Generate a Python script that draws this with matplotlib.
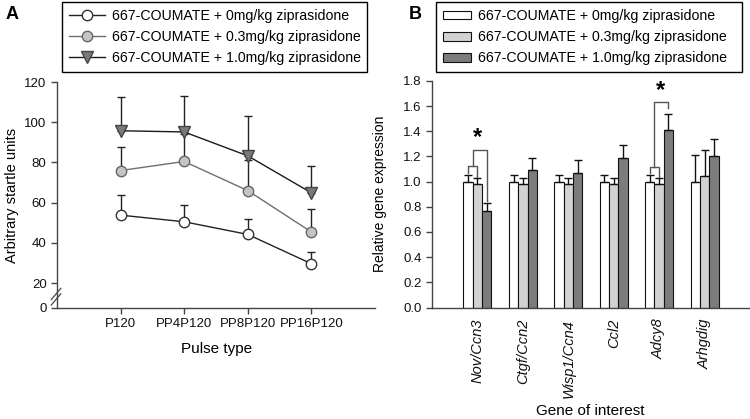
import matplotlib
matplotlib.use('Agg')
import matplotlib.pyplot as plt
import numpy as np

plt.rcParams['font.family'] = ['Liberation Sans', 'DejaVu Sans']

# Panel A: startle data
pulse_types = ['P120', 'PP4P120', 'PP8P120', 'PP16P120']
startle_0 = [53.8, 50.5, 44.2, 29.6]
startle_0_err = [10.2, 8.3, 7.6, 5.8]
startle_03 = [76.0, 80.5, 66.0, 45.4]
startle_03_err = [11.5, 13.5, 15.0, 11.5]
startle_10 = [95.8, 95.2, 83.3, 64.9]
startle_10_err = [16.8, 18.0, 19.8, 13.6]

# Panel B: gene expression
genes = ['Nov/Ccn3', 'Ctgf/Ccn2', 'Wisp1/Ccn4', 'Ccl2', 'Adcy8', 'Arhgdig']
expr_0 = [1.00, 1.00, 1.00, 1.00, 1.00, 1.00]
expr_0_err = [0.055, 0.055, 0.055, 0.055, 0.055, 0.21]
expr_03 = [0.98, 0.98, 0.98, 0.98, 0.98, 1.045]
expr_03_err = [0.048, 0.048, 0.048, 0.05, 0.05, 0.21]
expr_10 = [0.77, 1.09, 1.065, 1.19, 1.41, 1.20]
expr_10_err = [0.06, 0.095, 0.105, 0.10, 0.125, 0.14]

labels = ['667-COUMATE + 0mg/kg ziprasidone',
          '667-COUMATE + 0.3mg/kg ziprasidone',
          '667-COUMATE + 1.0mg/kg ziprasidone']

spine_col = '#444444'

fig = plt.figure(figsize=(7.5, 4.19), dpi=100)
axA = fig.add_axes([0.076, 0.265, 0.424, 0.539])
axB = fig.add_axes([0.576, 0.266, 0.424, 0.541])


# broken axis: 0-20 compressed
def fwd(v):
    v = np.asarray(v, dtype=float)
    return np.where(v >= 20, v, 20 - (20 - v) * 0.62)


def inv(v):
    v = np.asarray(v, dtype=float)
    return np.where(v >= 20, v, 20 - (20 - v) / 0.62)


axA.set_yscale('function', functions=(fwd, inv))

xA = np.arange(1, len(pulse_types) + 1)
series = [
    (startle_0, startle_0_err, 'o', 'white', '#333333', '#222222', 7.5),
    (startle_03, startle_03_err, 'o', '#c4c4c4', '#666666', '#6e6e6e', 7.5),
    (startle_10, startle_10_err, 'v', '#7a7a7a', '#444444', '#1a1a1a', 8.5),
]
handles = []
for vals, err, mk, fc, ec, lc, ms in series:
    axA.errorbar(xA, vals, yerr=[np.zeros(len(err)), err], fmt='none',
                 ecolor='#222222', elinewidth=1.0, capsize=3, capthick=1.0, zorder=2)
    h, = axA.plot(xA, vals, '-', color=lc, lw=1.0, marker=mk, markersize=ms,
                  markerfacecolor=fc, markeredgecolor=ec, markeredgewidth=1.0, zorder=3)
    handles.append(h)

axA.set_xlim(0, 5)
axA.set_ylim(0, 120)
axA.set_yticks([0, 20, 40, 60, 80, 100, 120])
axA.set_xticks(xA)
axA.set_xticklabels(pulse_types)
axA.set_xlabel('Pulse type', fontsize=11)
axA.xaxis.set_label_coords(0.503, -0.15)
axA.set_ylabel('Arbitrary startle units', fontsize=10.5)
axA.yaxis.set_label_coords(-0.12, 0.5)

# break marks on y axis
for dy in (-0.012, 0.012):
    axA.plot([-0.018, 0.012], [0.05 + dy - 0.025, 0.05 + dy + 0.025], transform=axA.transAxes,
             color=spine_col, lw=0.9, clip_on=False)

# Panel B bars
xB = np.arange(1, len(genes) + 1)
w = 0.205
bar_cols = ['white', '#d2d2d2', '#7c7c7c']
bdata = [(expr_0, expr_0_err), (expr_03, expr_03_err), (expr_10, expr_10_err)]
bhandles = []
for i, (vals, err) in enumerate(bdata):
    b = axB.bar(xB + (i - 1) * w, vals, width=w, color=bar_cols[i], edgecolor='#111111',
                linewidth=0.8, zorder=2)
    axB.errorbar(xB + (i - 1) * w, vals, yerr=[np.zeros(len(err)), err], fmt='none',
                 ecolor='#111111', elinewidth=1.0, capsize=3, capthick=1.0, zorder=3)
    bhandles.append(b)

axB.set_xlim(0, 7)
axB.set_ylim(0, 1.8)
axB.set_yticks(np.arange(0, 1.81, 0.2))
axB.set_yticklabels(['%.1f' % t for t in np.arange(0, 1.81, 0.2)])
axB.set_xticks(xB)
axB.set_xticklabels(genes, rotation=90, style='italic', fontsize=10.5)
axB.set_ylabel('Relative gene expression', fontsize=10)
axB.yaxis.set_label_coords(-0.14, 0.5)
axB.set_xlabel('Gene of interest', fontsize=11)
axB.xaxis.set_label_coords(0.497, -0.425)

# significance brackets
br = '#555555'
# Nov/Ccn3
g = xB[0]
axB.plot([g - w, g - w, g, g], [1.07, 1.125, 1.125, 1.035], color=br, lw=1)
axB.plot([g - w / 2, g - w / 2, g + w, g + w], [1.125, 1.255, 1.255, 0.85], color=br, lw=1)
axB.text(g - w / 2 + 0.1, 1.255, '*', ha='center', va='bottom', fontsize=17, fontweight='bold')
# Adcy8
g = xB[4]
axB.plot([g - w, g - w, g, g], [1.07, 1.12, 1.12, 1.04], color=br, lw=1)
axB.plot([g - w / 2, g - w / 2, g + w, g + w], [1.12, 1.632, 1.632, 1.585], color=br, lw=1)
axB.text(g + 0.04, 1.63, '*', ha='center', va='bottom', fontsize=17, fontweight='bold')

for ax in (axA, axB):
    for s in ('top', 'right'):
        ax.spines[s].set_visible(False)
    for s in ('left', 'bottom'):
        ax.spines[s].set_color(spine_col)
        ax.spines[s].set_linewidth(1.0)
    ax.tick_params(axis='both', colors=spine_col, labelcolor='#111111', labelsize=9.5,
                   length=4, width=1)
axB.tick_params(axis='x', length=0, labelsize=10.5, pad=8)

fig.legend(handles, labels, loc='upper left', bbox_to_anchor=(0.083, 0.84, 0.406, 0.155),
           mode='expand', fontsize=10.2, frameon=True, fancybox=False, edgecolor='black',
           framealpha=1, labelspacing=0.5, borderpad=0.5, handlelength=2.5,
           handletextpad=0.5, borderaxespad=0)
fig.legend(bhandles, labels, loc='upper left', bbox_to_anchor=(0.581, 0.845, 0.408, 0.15),
           mode='expand', fontsize=10.2, frameon=True, fancybox=False, edgecolor='black',
           framealpha=1, labelspacing=0.5, borderpad=0.5, handlelength=2.0,
           handleheight=0.55, handletextpad=0.5, borderaxespad=0)
for lg in fig.legends:
    lg.get_frame().set_linewidth(1.0)

fig.text(0.008, 0.985, 'A', fontsize=13, fontweight='bold', va='top', ha='left')
fig.text(0.545, 0.985, 'B', fontsize=13, fontweight='bold', va='top', ha='left')

fig.savefig('out.png', dpi=100)
